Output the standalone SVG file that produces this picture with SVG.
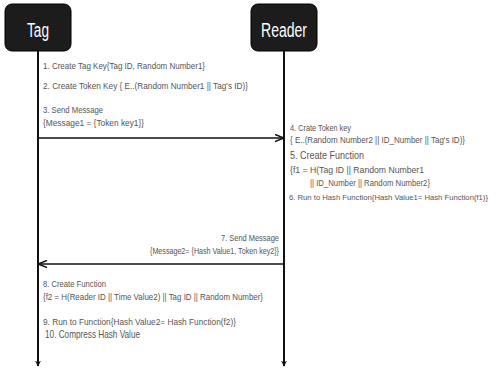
<svg xmlns="http://www.w3.org/2000/svg" width="498" height="370" viewBox="0 0 498 370">
<defs>
<style>
.box{fill:#1c1c1c;stroke:#000;stroke-width:1}
.title{font-family:"Liberation Sans",Arial,sans-serif;font-size:20px;fill:#fff;text-anchor:middle}
.t{font-family:"Liberation Sans",Arial,sans-serif;font-size:9px;fill:#555}
.ts{font-family:"Liberation Sans",Arial,sans-serif;font-size:7.8px;fill:#555}
.tb{font-family:"Liberation Sans",Arial,sans-serif;font-size:10.5px;fill:#555}
.life{stroke:#111;stroke-width:2;fill:none}
.msg{stroke:#111;stroke-width:1.6;fill:none}
</style>
<marker id="ah" viewBox="0 0 10 10" refX="9" refY="5" markerWidth="6" markerHeight="6" orient="auto" markerUnits="userSpaceOnUse">
<path d="M0,0 L10,5 L0,10 L3,5 Z" fill="#111"/>
</marker>
<marker id="ahm" viewBox="0 0 10 10" refX="9" refY="5" markerWidth="9" markerHeight="9" orient="auto" markerUnits="userSpaceOnUse">
<path d="M0,1 L10,5 L0,9" fill="none" stroke="#111" stroke-width="1.6"/>
</marker>
</defs>
<rect width="498" height="370" fill="#fff"/>
<g id="tag">
<rect class="box" x="5" y="4" width="66" height="47" rx="7"/>
<text class="title" x="38" y="37" textLength="22" lengthAdjust="spacingAndGlyphs">Tag</text>
</g>
<g id="reader">
<rect class="box" x="251" y="4" width="66" height="47" rx="7"/>
<text class="title" x="284" y="37" textLength="46" lengthAdjust="spacingAndGlyphs">Reader</text>
</g>
<g id="connectors">
<line class="life" x1="38" y1="51" x2="38" y2="366" marker-end="url(#ah)"/>
<line class="life" x1="284" y1="51" x2="284" y2="366" marker-end="url(#ah)"/>
<line class="msg" x1="38" y1="138" x2="283" y2="138" marker-end="url(#ahm)"/>
<line class="msg" x1="284" y1="264" x2="39" y2="264" marker-end="url(#ahm)"/>
</g>
<g id="tag-steps">
<text class="t" x="43" y="69" textLength="162" lengthAdjust="spacingAndGlyphs">1. Create Tag Key{Tag ID, Random Number1}</text>
<text class="t" x="43" y="89" textLength="205" lengthAdjust="spacingAndGlyphs">2. Create Token Key { E..(Random Number1 || Tag's ID)}</text>
<text class="t" x="43" y="113" textLength="60" lengthAdjust="spacingAndGlyphs">3. Send Message</text>
<text class="t" x="43" y="126" textLength="101" lengthAdjust="spacingAndGlyphs">{Message1 = {Token key1}}</text>
</g>
<g id="reader-steps">
<text class="t" x="290" y="131" textLength="61" lengthAdjust="spacingAndGlyphs">4. Crate Token key</text>
<text class="t" x="290" y="143" textLength="175" lengthAdjust="spacingAndGlyphs">{ E..(Random Number2 || ID_Number || Tag's ID)}</text>
<text class="tb" x="290" y="159" textLength="74" lengthAdjust="spacingAndGlyphs">5. Create Function</text>
<text class="t" x="290" y="173" textLength="134" lengthAdjust="spacingAndGlyphs">{f1 = H(Tag ID || Random Number1</text>
<text class="t" x="310" y="186" textLength="120" lengthAdjust="spacingAndGlyphs">|| ID_Number || Random Number2}</text>
<text class="ts" x="289" y="200" textLength="199" lengthAdjust="spacingAndGlyphs">6. Run to Hash Function{Hash Value1= Hash Function(f1)}</text>
</g>
<g id="reply-label">
<text class="t" x="279" y="241" text-anchor="end" textLength="58" lengthAdjust="spacingAndGlyphs">7. Send Message</text>
<text class="t" x="279" y="254" text-anchor="end" textLength="129" lengthAdjust="spacingAndGlyphs">{Message2= {Hash Value1, Token key2}}</text>
</g>
<g id="tag-final-steps">
<text class="t" x="43" y="287" textLength="63" lengthAdjust="spacingAndGlyphs">8. Create Function</text>
<text class="t" x="43" y="300" textLength="220" lengthAdjust="spacingAndGlyphs">{f2 = H(Reader ID || Time Value2) || Tag ID || Random Number}</text>
<text class="t" x="43" y="325" textLength="193" lengthAdjust="spacingAndGlyphs">9. Run to Function{Hash Value2= Hash Function(f2)}</text>
<text class="tb" x="45" y="338" textLength="95" lengthAdjust="spacingAndGlyphs">10. Compress Hash Value</text>
</g>
</svg>
